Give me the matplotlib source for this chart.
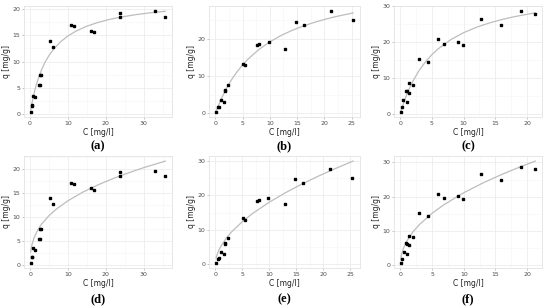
import matplotlib
matplotlib.use("Agg")
import matplotlib.pyplot as plt
from matplotlib.ticker import MultipleLocator

# ── measured data (three sorption sets) ───────────────────────────────────────
c_a = [0.2, 0.6, 0.5, 0.85, 1.3, 2.3, 2.7, 2.6, 2.9, 5.3, 6.0, 10.7, 11.5,
       16.0, 16.9, 23.7, 23.7, 32.9, 35.7]
q_a = [0.45, 1.6, 1.7, 3.5, 3.2, 5.5, 5.5, 7.5, 7.5, 14.0, 12.7, 17.0, 16.7,
       15.9, 15.6, 19.2, 18.5, 19.6, 18.4]

c_b = [0.1, 0.5, 0.6, 1.0, 1.6, 1.7, 1.8, 2.4, 5.1, 5.5, 7.7, 8.0, 9.8,
       12.8, 14.8, 16.3, 21.3, 25.2]
q_b = [0.45, 1.6, 1.8, 3.5, 3.0, 5.9, 6.2, 7.7, 13.4, 12.9, 18.3, 18.7, 19.1,
       17.4, 24.6, 23.7, 27.5, 25.1]

c_c = [0.1, 0.27, 0.5, 0.95, 1.1, 1.1, 1.4, 1.4, 2.0, 3.0, 4.4, 5.9, 6.9,
       9.1, 9.9, 12.7, 15.9, 19.1, 21.3]
q_c = [0.67, 1.9, 3.9, 6.5, 6.3, 3.4, 8.6, 6.0, 8.1, 15.3, 14.5, 20.8, 19.5,
       20.2, 19.3, 26.5, 24.9, 28.7, 28.0]

# ── fitted curves ─────────────────────────────────────────────────────────────
# top row: Langmuir
fit_a_c = [0.2, 0.5, 1, 1.5, 2, 3, 4, 5, 6, 8, 10, 12, 15, 18, 21, 24, 28, 32, 35.7]
fit_a_q = [0.86, 2.03, 3.72, 5.15, 6.37, 8.36, 9.91, 11.15, 12.16, 13.72, 14.87,
           15.74, 16.73, 17.45, 18.01, 18.46, 18.92, 19.29, 19.56]

fit_b_c = [0.1, 0.5, 1, 2, 3, 4, 5, 6, 8, 10, 12, 14, 16, 18, 20, 22, 25.3]
fit_b_q = [0.40, 1.91, 3.64, 6.62, 9.11, 11.21, 13.02, 14.59, 17.18, 19.22,
           20.88, 22.25, 23.40, 24.38, 25.23, 25.97, 27.0]

fit_c_c = [0.1, 0.5, 1, 1.5, 2, 3, 4, 5, 6, 8, 10, 12, 14, 16, 18, 21.3]
fit_c_q = [0.60, 2.82, 5.23, 7.31, 9.13, 12.16, 14.57, 16.54, 18.18, 20.75,
           22.67, 24.16, 25.35, 26.32, 27.13, 28.21]

# bottom row: Freundlich
fit_d_c = [0.15, 0.3, 0.5, 1, 2, 3, 5, 7, 10, 14, 18, 22, 26, 30, 35.7]
fit_d_q = [2.74, 3.56, 4.31, 5.6, 7.27, 8.47, 10.27, 11.66, 13.34, 15.15,
           16.65, 17.96, 19.12, 20.19, 21.55]

fit_e_c = [0.15, 0.3, 0.5, 1, 2, 3, 5, 7, 10, 13, 16, 19, 22, 25.5]
fit_e_q = [1.87, 2.71, 3.58, 5.2, 7.56, 9.41, 12.40, 14.87, 18.03, 20.77,
           23.24, 25.50, 27.60, 29.9]

fit_f_c = [0.05, 0.15, 0.3, 0.5, 1, 2, 3, 5, 7, 10, 13, 16, 19, 21.3]
fit_f_q = [1.66, 2.82, 3.93, 5.02, 7.0, 9.77, 11.86, 15.16, 17.81, 21.14,
           23.98, 26.49, 28.77, 30.39]

panels = [
    ("a", c_a, q_a, fit_a_c, fit_a_q, 10, 5),
    ("b", c_b, q_b, fit_b_c, fit_b_q, 5, 10),
    ("c", c_c, q_c, fit_c_c, fit_c_q, 5, 10),
    ("d", c_a, q_a, fit_d_c, fit_d_q, 10, 5),
    ("e", c_b, q_b, fit_e_c, fit_e_q, 5, 10),
    ("f", c_c, q_c, fit_f_c, fit_f_q, 5, 10),
]

W, H = 550, 306
lefts = [24, 209, 394]
widths = [148, 151, 148]
tops = [6, 156]
heights = [111, 112]
letter_y = [146, 299]

fig = plt.figure(figsize=(W / 100, H / 100), dpi=100)
fig.patch.set_facecolor("white")

for i, (lab, cx, qy, fx, fy, xstep, ystep) in enumerate(panels):
    row, col = divmod(i, 3)
    l, w = lefts[col], widths[col]
    t, h = tops[row], heights[row]
    ax = fig.add_axes([l / W, 1 - (t + h) / H, w / W, h / H])

    ax.plot(fx, fy, color="#bdbdbd", lw=0.9, zorder=2)
    ax.plot(cx, qy, "s", color="black", ms=1.9, zorder=3)
    ax.margins(0.05)

    ax.xaxis.set_major_locator(MultipleLocator(xstep))
    ax.yaxis.set_major_locator(MultipleLocator(ystep))
    ax.xaxis.set_minor_locator(MultipleLocator(xstep / 2))
    ax.yaxis.set_minor_locator(MultipleLocator(ystep / 2))
    ax.grid(which="major", color="#ececec", lw=0.6)
    ax.grid(which="minor", color="#f5f5f5", lw=0.4)
    ax.set_axisbelow(True)
    for sp in ax.spines.values():
        sp.set_color("#e3e3e3")
        sp.set_linewidth(0.6)
    ax.tick_params(which="major", length=1.5, width=0.5, color="#aaaaaa",
                   labelsize=4.5, labelcolor="#4d4d4d", pad=1.2)
    ax.tick_params(which="minor", length=0)

    ax.set_xlabel("C [mg/l]", fontsize=5.5, color="#222222", labelpad=1.5)
    ax.set_ylabel("q [mg/g]", fontsize=5.5, color="#222222", labelpad=1)

    fig.text((l + w / 2) / W, 1 - letter_y[row] / H, f"({lab})",
             ha="center", va="center", fontsize=9, fontweight="bold",
             family="Liberation Serif")

fig.savefig("out.png", dpi=100)
